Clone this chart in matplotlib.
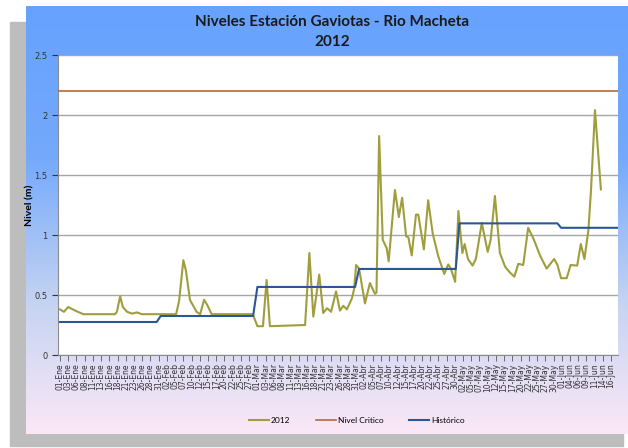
import numpy as np
import pandas as pd
import matplotlib.pyplot as plt
from matplotlib.patches import Rectangle
from matplotlib.colors import LinearSegmentedColormap

# dias contados desde el 01-Ene-2012
dias_2012 = [0, 1.2, 2.5, 4.6, 7.1, 16.7, 17.3, 18.3, 19.1, 20.4, 21.9, 23.4, 24.9,
             35.3, 36.2, 37.5, 38.3, 39.5, 41.5, 42.6, 43.8, 44.7, 46.1, 58.6, 60.0,
             61.7, 62.8, 63.8, 74.5, 75.8, 77.0, 78.8, 80.0, 81.2, 82.4, 83.9, 85.1,
             86.1, 87.2, 88.7, 89.4, 90.0, 90.9, 92.7, 94.2, 95.7, 96.2, 97.0, 98.1,
             99.3, 99.9, 101.8, 103.0, 104.0, 105.2, 105.9, 106.9, 108.2, 108.9, 110.6,
             111.9, 113.3, 115.0, 116.8, 118.0, 118.8, 120.1, 121.1, 122.3, 123.0,
             124.0, 125.4, 126.4, 128.2, 130.0, 130.9, 132.2, 133.7, 135.3, 136.8,
             138.1, 139.3, 140.8, 142.3, 143.9, 145.9, 147.9, 150.2, 151.2, 152.3,
             154.0, 155.2, 157.2, 158.3, 159.4, 160.6, 161.4, 162.6, 164.4]
nivel_2012 = [0.38, 0.36, 0.40, 0.37, 0.34, 0.34, 0.36, 0.49, 0.40, 0.36, 0.345, 0.355, 0.34,
              0.34, 0.45, 0.79, 0.70, 0.46, 0.36, 0.34, 0.46, 0.42, 0.34, 0.34, 0.24,
              0.24, 0.625, 0.24, 0.25, 0.85, 0.32, 0.67, 0.35, 0.39, 0.36, 0.53, 0.37,
              0.41, 0.38, 0.47, 0.55, 0.75, 0.72, 0.43, 0.60, 0.51, 0.52, 1.825, 0.96,
              0.89, 0.78, 1.375, 1.15, 1.31, 0.99, 0.98, 0.83, 1.17, 1.17, 0.88,
              1.29, 1.01, 0.82, 0.675, 0.755, 0.72, 0.61, 1.20, 0.85, 0.925,
              0.80, 0.745, 0.80, 1.10, 0.86, 0.96, 1.325, 0.85, 0.735, 0.686,
              0.653, 0.76, 0.75, 1.06, 0.97, 0.83, 0.72, 0.80, 0.75, 0.64,
              0.64, 0.75, 0.745, 0.925, 0.80, 1.04, 1.375, 2.04, 1.38]

dias_hist = [0, 29.4, 30.6, 58.7, 60.0, 89.7, 90.9, 120.3, 121.4, 151.2, 152.3, 169.6]
nivel_hist = [0.275, 0.275, 0.325, 0.325, 0.567, 0.567, 0.717, 0.717, 1.097, 1.097, 1.06, 1.06]

nivel_critico = 2.2

meses = {1: "Ene", 2: "Feb", 3: "Mar", 4: "Abr", 5: "May", 6: "Jun"}
fechas = pd.date_range("2012-01-01", periods=68, freq="60h")
etiquetas = [f"{f.day:02d}-{meses[f.month]}" for f in fechas]
pos_etiquetas = [(f - fechas[0]) / pd.Timedelta(days=1) for f in fechas]

W, H = 628, 448
fig = plt.figure(figsize=(W / 100, H / 100), dpi=100)

# fondo: sombra gris y area del grafico con degradado
bg = fig.add_axes([0, 0, 1, 1])
bg.set_xlim(0, W)
bg.set_ylim(H, 0)
bg.axis("off")
bg.add_patch(Rectangle((10, 22), 613, 424, color="#bdbdbd", zorder=0))
cmap = LinearSegmentedColormap.from_list("fondo", [(0, "#66a2ff"), (0.35, "#74a9fb"),
                                                   (0.7, "#c6d4f2"), (1, "#fbe8f7")])
grad = np.linspace(0, 1, 256).reshape(-1, 1)
bg.imshow(grad, cmap=cmap, aspect="auto", extent=(26, 630, 434, 6), zorder=1)
bg.set_xlim(0, W)
bg.set_ylim(H, 0)

bg.text(332, 22, "Niveles Estación Gaviotas - Rio Macheta", ha="center", va="center",
        fontsize=11, fontweight="bold", family="Lato", color="#1a1a1a")
bg.text(332, 42, "2012", ha="center", va="center",
        fontsize=11, fontweight="bold", family="Lato", color="#1a1a1a")

ax = fig.add_axes([58 / W, (H - 355) / H, 560 / W, 300 / H])
ax.set_facecolor("white")
ax.plot(dias_2012, nivel_2012, color="#a09e3c", lw=1.5, label="2012", zorder=3)
ax.axhline(nivel_critico, color="#b5693a", lw=1.2, label="Nivel Critico", zorder=3)
ax.plot(dias_hist, nivel_hist, color="#2b5797", lw=1.5, label="Histórico", zorder=4)

ax.set_xlim(-0.6, 169.6)
ax.set_ylim(0, 2.5)
ax.set_yticks([0, 0.5, 1, 1.5, 2, 2.5])
ax.set_yticklabels(["0", "0.5", "1", "1.5", "2", "2.5"])
ax.set_xticks(pos_etiquetas)
ax.set_xticklabels(etiquetas, rotation=90, fontsize=5.5, family="DejaVu Sans")
ax.tick_params(axis="y", labelsize=6, colors="#333333", length=4, width=0.8)
ax.tick_params(axis="x", colors="#555555", labelcolor="#333333", length=4, width=0.6, pad=2)
ax.grid(axis="y", color="#a6a6a6", lw=1)
ax.set_axisbelow(True)
for s in ["top", "right"]:
    ax.spines[s].set_visible(False)
for s in ["left", "bottom"]:
    ax.spines[s].set_color("#8c8c8c")
ax.set_ylabel("Nivel (m)", fontsize=7.5, fontweight="bold", family="Lato")
ax.yaxis.set_label_coords((34 - 58) / 560, 0.5)

ax.legend(loc="center", bbox_to_anchor=(357 / W, 1 - 420 / H), bbox_transform=fig.transFigure,
          ncol=3, frameon=False, handlelength=2.4, columnspacing=3.1,
          handletextpad=0.2, prop={"family": "Lato", "size": 6})

fig.savefig("out.png", dpi=100)
